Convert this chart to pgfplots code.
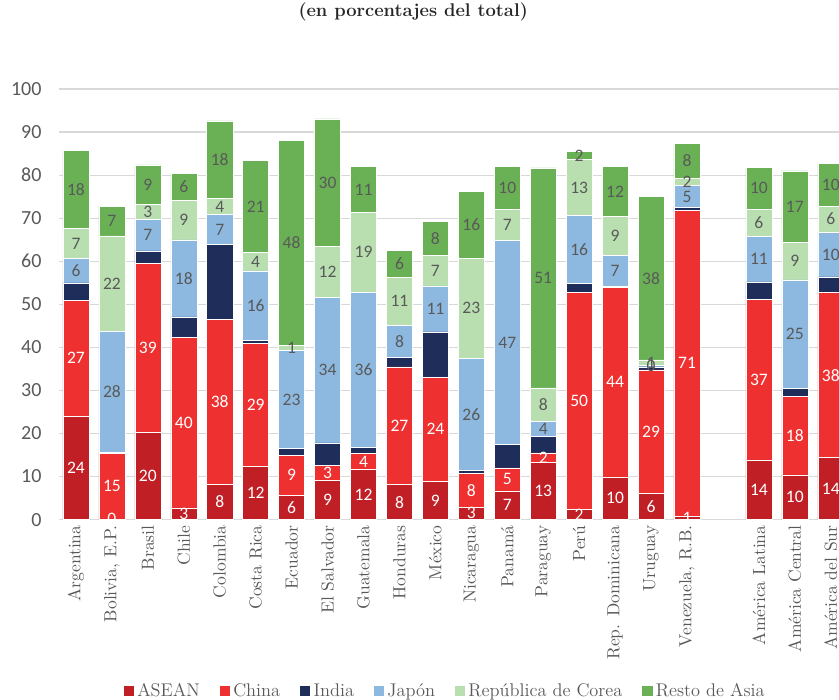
\documentclass[border=0pt]{standalone}
\usepackage{fontspec}
\usepackage{pgfplots}
\usepackage{pgfplotstable}
\pgfplotsset{compat=1.18}
\newfontfamily\carlito{Carlito}

\definecolor{cAsean}{RGB}{193,31,38}
\definecolor{cChina}{RGB}{238,48,48}
\definecolor{cIndia}{RGB}{31,45,90}
\definecolor{cJapon}{RGB}{141,185,224}
\definecolor{cCorea}{RGB}{185,223,177}
\definecolor{cResto}{RGB}{106,177,85}
\definecolor{txtgray}{RGB}{89,89,89}
\definecolor{gridgray}{RGB}{217,217,217}

% shares of total, per partner (%)
\pgfplotstableread{
x  asean china india japon corea resto
0  24.0  27.0  4.0   5.6  7.0  18.2
1  0.2   15.1  0.4   28.1 22.1 6.9
2  20.2  39.4  2.8   7.4  3.4  9.2
3  2.7   39.6  4.8   17.9 9.2  6.3
4  8.2   38.3  17.4  7.0  3.7  18.0
5  12.3  28.6  0.7   16.2 4.3  21.3
6  5.6   9.4   1.5   22.8 1.2  47.6
7  9.2   3.4   5.2   33.9 11.8 29.6
8  11.6  3.7   1.5   36.0 18.6 10.6
9  8.1   27.4  2.1   7.6  11.1 6.2
10 8.9   24.2  10.5  10.7 7.1  7.9
11 2.9   7.8   0.7   26.1 23.2 15.6
12 6.7   5.3   5.4   47.4 7.3  9.9
13 13.3  2.2   3.8   3.6  7.7  51.1
14 2.3   50.4  2.1   15.9 12.9 1.9
15 9.9   44.0  0.3   7.2  9.0  11.6
16 6.1   28.7  0.7   0.4  1.2  38.0
17 0.8   71.0  0.7   5.1  1.7  8.1
19 13.9  37.3  4.0   10.6 6.2  9.9
20 10.4  18.2  1.9   25.2 8.7  16.6
21 14.4  38.3  3.7   10.4 6.0  9.9
}\shares
% label positions (middle of each segment)
\pgfplotstablecreatecol[create col/expr={\thisrow{asean}/2}]{c1}\shares
\pgfplotstablecreatecol[create col/expr={\thisrow{asean}+\thisrow{china}/2}]{c2}\shares
\pgfplotstablecreatecol[create col/expr={\thisrow{asean}+\thisrow{china}+\thisrow{india}+\thisrow{japon}/2}]{c4}\shares
\pgfplotstablecreatecol[create col/expr={\thisrow{asean}+\thisrow{china}+\thisrow{india}+\thisrow{japon}+\thisrow{corea}/2}]{c5}\shares
\pgfplotstablecreatecol[create col/expr={\thisrow{asean}+\thisrow{china}+\thisrow{india}+\thisrow{japon}+\thisrow{corea}+\thisrow{resto}/2}]{c6}\shares

\pgfplotsset{
  base/.style={
    x=21.54pt, y=2.58pt,
    xmin=-0.47, xmax=21.23, ymin=0, ymax=100,
    /pgf/number format/assume math mode=true,
  },
  lbl/.style={
    only marks, mark=none,
    nodes near coords, point meta=explicit,
    /pgf/number format/.cd, fixed, precision=0, /pgfplots/.cd,
    every node near coord/.append style={anchor=center, inner sep=0pt,
      font=\carlito\fontsize{10.5}{12}\selectfont, text=#1},
  },
}

\begin{document}
\begin{tikzpicture}
\useasboundingbox (-35.4pt,-108pt) rectangle (467.4pt,311.4pt);
\clip (-35.4pt,-108pt) rectangle (467.4pt,311.4pt);
\begin{axis}[
    base,
    ybar stacked,
    bar width=15.6pt,
    axis line style={draw=none},
    major tick length=0pt,
    ymajorgrids,
    major grid style={gridgray, line width=0.8pt},
    ytick={0,10,...,100},
    yticklabel style={font=\carlito\fontsize{12}{14}\selectfont, text=txtgray, xshift=-7pt},
    xtick={0,...,17,19,20,21},
    xticklabels={Argentina,{Bolivia, E.P.},Brasil,Chile,Colombia,Costa Rica,Ecuador,El Salvador,Guatemala,Honduras,México,Nicaragua,Panamá,Paraguay,Perú,Rep. Dominicana,Uruguay,{Venezuela, R.B.},América Latina,América Central,América del Sur},
    xticklabel style={rotate=90, anchor=east, font=\fontsize{10.5}{12}\selectfont, text=txtgray},
    title={(en porcentajes del total)},
    title style={at={(0.454,1.155)}, anchor=center, font=\bfseries\fontsize{11}{13}\selectfont, text=black!85},
    legend style={at={(0.496,-0.398)}, anchor=center, draw=none, fill=none,
      legend columns=6, font=\fontsize{11}{13}\selectfont, text=txtgray,
      /tikz/every even column/.append style={column sep=10pt}},
    legend image code/.code={\fill[#1, draw=none] (0pt,-3pt) rectangle (6pt,3pt);},
]
\addplot[fill=cAsean, draw=white, line width=0.3pt] table[x=x, y=asean] {\shares};
\addplot[fill=cChina, draw=white, line width=0.3pt] table[x=x, y=china] {\shares};
\addplot[fill=cIndia, draw=white, line width=0.3pt] table[x=x, y=india] {\shares};
\addplot[fill=cJapon, draw=white, line width=0.3pt] table[x=x, y=japon] {\shares};
\addplot[fill=cCorea, draw=white, line width=0.3pt] table[x=x, y=corea] {\shares};
\addplot[fill=cResto, draw=white, line width=0.3pt] table[x=x, y=resto] {\shares};
\legend{ASEAN,China,India,Japón,República de Corea,Resto de Asia}
\end{axis}
\begin{axis}[base, hide axis]
\addplot[lbl=white] table[x=x, y=c1, meta=asean] {\shares};
\addplot[lbl=white] table[x=x, y=c2, meta=china] {\shares};
\addplot[lbl=txtgray] table[x=x, y=c4, meta=japon] {\shares};
\addplot[lbl=txtgray] table[x=x, y=c5, meta=corea] {\shares};
\addplot[lbl=txtgray] table[x=x, y=c6, meta=resto] {\shares};
\end{axis}
\end{tikzpicture}
\end{document}
